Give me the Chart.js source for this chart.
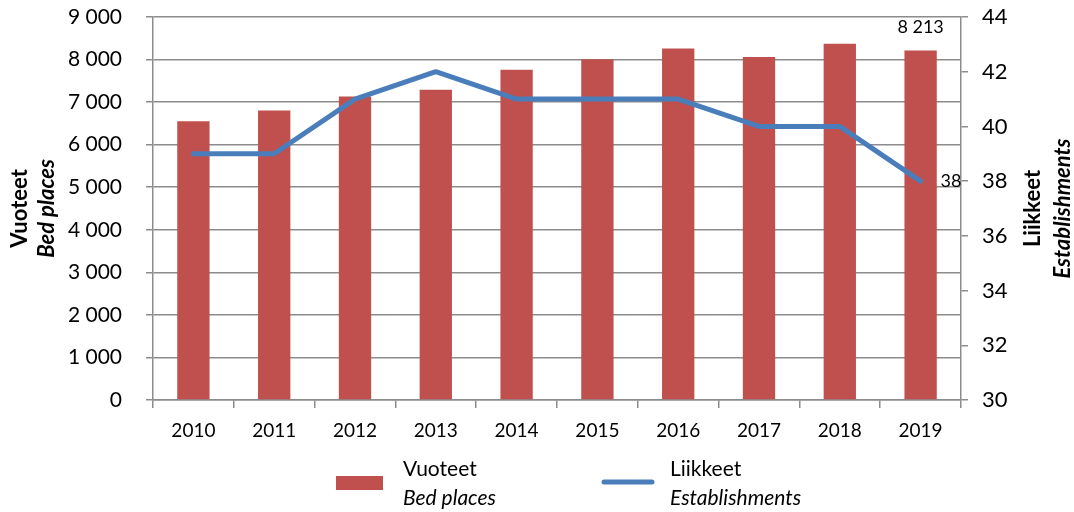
<!DOCTYPE html>
<html>
<head>
<meta charset="utf-8">
<script src="https://cdn.jsdelivr.net/npm/chart.js@4"></script>
<style>
  html, body { margin: 0; padding: 0; background: #fff; }
  #wrap { width: 1074px; height: 512px; position: relative; }
</style>
</head>
<body>
<div id="wrap"><canvas id="bedChart"></canvas></div>
<script>
const years = ['2010', '2011', '2012', '2013', '2014', '2015', '2016', '2017', '2018', '2019'];
const bedPlaces = [6550, 6800, 7130, 7290, 7760, 8010, 8260, 8060, 8370, 8213];
const establishments = [39, 39, 41, 42, 41, 41, 41, 40, 40, 38];
const bedTicks = [0, 1000, 2000, 3000, 4000, 5000, 6000, 7000, 8000, 9000];
const estTicks = [30, 32, 34, 36, 38, 40, 42, 44];

const FONT = 'Lato, "Open Sans", sans-serif';
const gridColor = '#8c8c8c';

const fmt = v => String(v).replace(/\B(?=(\d{3})+(?!\d))/g, ' ');

// fixed axis widths; drop the label overhang so the plot can start at the top padding
const fixWidth = w => s => {
  s.width = w;
  s.paddingTop = 0;
  s.paddingBottom = 0;
};

// draws the two value labels, the rotated axis titles and the legend
const extras = {
  id: 'extras',
  afterDatasetsDraw(chart) {
    const ctx = chart.ctx;
    const last = years.length - 1;
    const bar = chart.getDatasetMeta(0).data[last];
    const pt = chart.getDatasetMeta(1).data[last];
    ctx.save();
    ctx.fillStyle = '#000';
    ctx.font = '18px ' + FONT;
    ctx.textAlign = 'center';
    ctx.textBaseline = 'middle';
    ctx.fillText(fmt(bedPlaces[last]), bar.x, bar.y - 23);
    ctx.textAlign = 'left';
    ctx.fillText(String(establishments[last]), pt.x + 20, pt.y);
    ctx.restore();
  },
  afterDraw(chart) {
    const ctx = chart.ctx;
    const a = chart.chartArea;
    const cy = (a.top + a.bottom) / 2;
    ctx.save();
    ctx.fillStyle = '#000';
    ctx.textAlign = 'center';
    ctx.textBaseline = 'middle';
    const vtext = (x, lines) => {
      ctx.save();
      ctx.translate(x, cy);
      ctx.rotate(-Math.PI / 2);
      lines.forEach(l => {
        ctx.font = l.font;
        ctx.fillText(l.text, 0, l.dy);
      });
      ctx.restore();
    };
    vtext(34, [
      { text: 'Vuoteet', font: 'bold 22px ' + FONT, dy: -14 },
      { text: 'Bed places', font: 'italic bold 22px ' + FONT, dy: 13 }
    ]);
    vtext(1048, [
      { text: 'Liikkeet', font: 'bold 22px ' + FONT, dy: -15 },
      { text: 'Establishments', font: 'italic bold 22px ' + FONT, dy: 15 }
    ]);

    // legend
    ctx.textAlign = 'left';
    ctx.fillStyle = '#c0504d';
    ctx.fillRect(336, 476, 47, 14);
    ctx.strokeStyle = '#4a7ebb';
    ctx.lineWidth = 5;
    ctx.lineCap = 'round';
    ctx.beginPath();
    ctx.moveTo(604, 482);
    ctx.lineTo(652, 482);
    ctx.stroke();
    ctx.fillStyle = '#000';
    ctx.font = '21px ' + FONT;
    ctx.fillText('Vuoteet', 403, 469);
    ctx.fillText('Liikkeet', 670, 469);
    ctx.font = 'italic 21px ' + FONT;
    ctx.fillText('Bed places', 403, 498);
    ctx.fillText('Establishments', 670, 498);
    ctx.restore();
  }
};

const ctx = document.getElementById('bedChart').getContext('2d');
const bedChart = new Chart(ctx, {
  data: {
    labels: years,
    datasets: [{
      type: 'bar',
      label: 'Vuoteet / Bed places',
      data: bedPlaces,
      backgroundColor: '#c0504d',
      barPercentage: 0.4,
      categoryPercentage: 1,
      yAxisID: 'y',
      order: 2
    }, {
      type: 'line',
      label: 'Liikkeet / Establishments',
      data: establishments,
      borderColor: '#4a7ebb',
      borderWidth: 5,
      borderCapStyle: 'round',
      borderJoinStyle: 'round',
      pointRadius: 0,
      tension: 0,
      yAxisID: 'y1',
      order: 1
    }]
  },
  options: {
    responsive: true,
    maintainAspectRatio: false,
    animation: false,
    layout: { padding: { top: 17, left: 0, right: 0, bottom: 0 } },
    plugins: {
      legend: { display: false },
      tooltip: { enabled: false }
    },
    scales: {
      x: {
        offset: true,
        grid: { offset: true, drawOnChartArea: false, color: gridColor, lineWidth: 1.5, tickLength: 8 },
        border: { color: gridColor, width: 1.5 },
        ticks: { color: '#000', font: { family: FONT, size: 19 }, padding: 11 },
        afterFit: s => { s.height = 112; }
      },
      y: {
        position: 'left',
        min: 0,
        max: 9000,
        afterBuildTicks: s => { s.ticks = bedTicks.map(v => ({ value: v })); },
        grid: { color: gridColor, lineWidth: 1.5, tickLength: 7 },
        border: { color: gridColor, width: 1.5 },
        ticks: { color: '#000', font: { family: FONT, size: 21 }, padding: 24, callback: v => fmt(v) },
        afterFit: fixWidth(153)
      },
      y1: {
        position: 'right',
        min: 30,
        max: 44,
        afterBuildTicks: s => { s.ticks = estTicks.map(v => ({ value: v })); },
        grid: { drawOnChartArea: false, color: gridColor, lineWidth: 1.5, tickLength: 7 },
        border: { color: gridColor, width: 1.5 },
        ticks: { color: '#000', font: { family: FONT, size: 22 }, padding: 14 },
        afterFit: fixWidth(113)
      }
    }
  },
  plugins: [extras]
});
</script>
</body>
</html>
